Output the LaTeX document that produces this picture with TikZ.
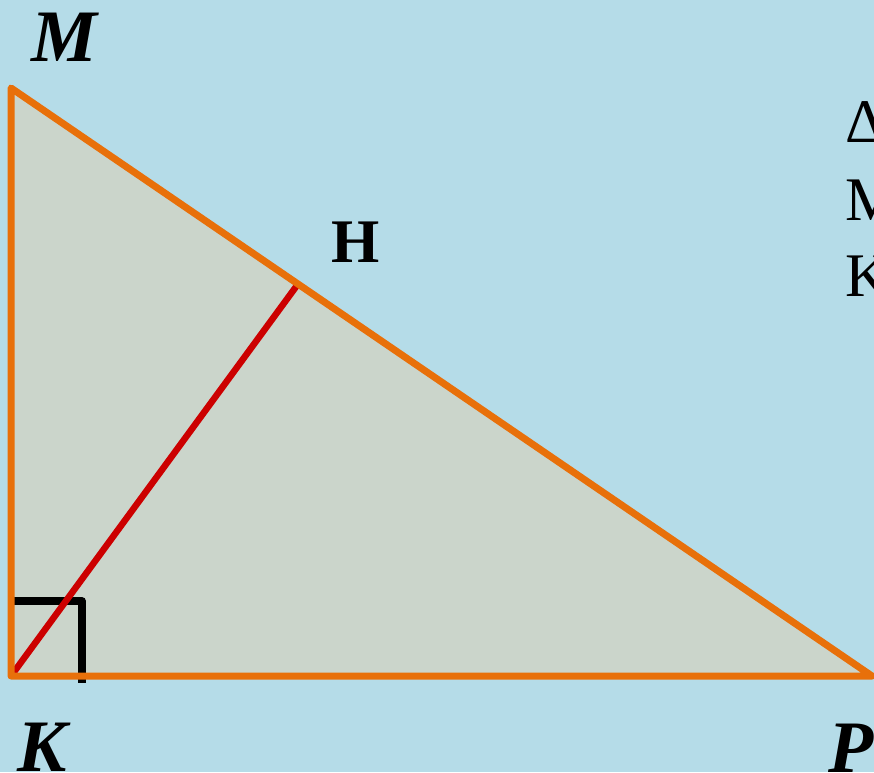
\documentclass[tikz,border=0pt]{standalone}
\usepackage{fontspec}
\setmainfont{Liberation Serif}
\begin{document}
\begin{tikzpicture}[x=1pt,y=-1pt,
  lbl/.style={font=\fontsize{74}{80}\selectfont\bfseries\itshape,inner sep=0pt,anchor=base},
  side/.style={draw=orangeC,line width=7pt,line join=round},
  txt/.style={font=\fontsize{62}{70}\selectfont,inner sep=0pt,anchor=base west}]
\definecolor{bgC}{HTML}{B5DCE8}
\definecolor{fillC}{HTML}{CBD5CB}
\definecolor{orangeC}{HTML}{E8700A}
\definecolor{redC}{HTML}{CC0000}
\useasboundingbox (0,0) rectangle (874,772);
\clip (0,0) rectangle (874,772);
\fill[bgC] (0,0) rectangle (874,772);
\coordinate (K) at (11,676);
\coordinate (M) at (11,88);
\coordinate (P) at (872,676);
\coordinate (H) at (298,284);
\fill[fillC] (K) -- (M) -- (P) -- cycle;
\coordinate (A1) at (11,601);
\coordinate (A2) at (82,601);
\coordinate (A3) at (82,683);
\draw[line width=7.5pt,line join=round] (A1) -- (A2) -- (A3);
\draw[redC,line width=6.5pt] (K) -- (H);
\draw[side] (K) -- (M) -- (P) -- cycle;
\node[lbl] (lM) at (64,61) {M};
\node[lbl] (lK) at (42,771) {K};
\node[lbl,anchor=base west] (lP) at (828,772) {P};
\node[font=\fontsize{62}{70}\selectfont\bfseries,inner sep=0pt,anchor=base] (lH) at (356,262) {H};
\node[txt] (t1) at (845,142) {Δ};
\node[txt] (t2) at (845,220) {M};
\node[txt] (t3) at (845,296) {K};
\end{tikzpicture}
\end{document}
